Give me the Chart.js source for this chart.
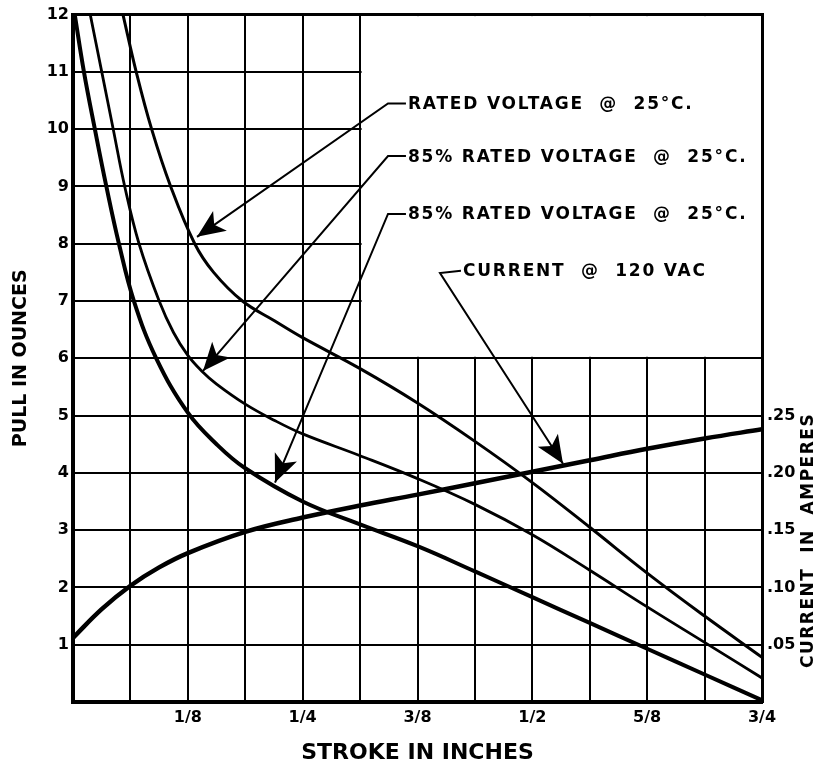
<!DOCTYPE html>
<html>
<head>
<meta charset="utf-8">
<script src="https://cdn.jsdelivr.net/npm/chart.js@4.4.0/dist/chart.umd.min.js"></script>
<style>
  body { margin: 0; background: #fff; }
  #wrap { width: 820px; height: 768px; }
</style>
</head>
<body>
<div id="wrap"><canvas id="pullChart"></canvas></div>
<script>
// stroke in inches, pull in ounces, current in amperes
const strokeTicks = [0, 0.0625, 0.125, 0.1875, 0.25, 0.3125, 0.375, 0.4375, 0.5, 0.5625, 0.625, 0.6875, 0.75];
const strokeLabels = ['', '', '1/8', '', '1/4', '', '3/8', '', '1/2', '', '5/8', '', '3/4'];
const pullTicks = [0, 1, 2, 3, 4, 5, 6, 7, 8, 9, 10, 11, 12];
const currentTicks = [0.05, 0.10, 0.15, 0.20, 0.25];
const currentLabels = ['.05', '.10', '.15', '.20', '.25'];

const ratedStroke = [0.0544, 0.0688, 0.0856, 0.1063, 0.1325, 0.1531, 0.1844, 0.2188, 0.25, 0.3125, 0.375, 0.4375, 0.5, 0.5625, 0.625, 0.6875, 0.75];
const ratedPull   = [12, 11, 10, 9, 8, 7.5, 7, 6.66, 6.36, 5.82, 5.22, 4.55, 3.83, 3.05, 2.25, 1.5, 0.78];

const v85aStroke = [0.0188, 0.0313, 0.0438, 0.0563, 0.0719, 0.0938, 0.1094, 0.125, 0.1406, 0.1563, 0.1875, 0.2188, 0.25, 0.3125, 0.375, 0.4375, 0.5, 0.5625, 0.625, 0.6875, 0.75];
const v85aPull   = [12, 11, 10, 9, 8, 7, 6.45, 6.05, 5.77, 5.55, 5.2, 4.92, 4.68, 4.3, 3.9, 3.45, 2.92, 2.3, 1.66, 1.04, 0.42];

const v85bStroke = [0.0019, 0.0119, 0.0238, 0.0363, 0.05, 0.0663, 0.0906, 0.125, 0.1563, 0.1875, 0.25, 0.3125, 0.375, 0.4375, 0.5, 0.5625, 0.625, 0.6875, 0.75];
const v85bPull   = [12, 11, 10, 9, 8, 7, 6, 5.05, 4.5, 4.08, 3.5, 3.1, 2.72, 2.28, 1.83, 1.38, 0.93, 0.48, 0.03];

const currentStroke = [0, 0.03125, 0.0625, 0.09375, 0.125, 0.1875, 0.25, 0.3125, 0.375, 0.4375, 0.5, 0.5625, 0.625, 0.6875, 0.75];
const currentAmps   = [0.056, 0.081, 0.1015, 0.1175, 0.130, 0.1485, 0.161, 0.1715, 0.181, 0.191, 0.201, 0.211, 0.221, 0.230, 0.238];

const noteTexts = ['RATED VOLTAGE  @  25°C.', '85% RATED VOLTAGE  @  25°C.', '85% RATED VOLTAGE  @  25°C.', 'CURRENT  @  120 VAC'];

const FONT = "'DejaVu Sans', 'Liberation Sans', sans-serif";

// where the callouts sit, in chart units: text start, elbow, arrow tip
const notes = [
  {text: [0.3646, 10.45], elbow: [0.3429, 10.45], tip: [0.135, 8.12]},
  {text: [0.3646, 9.53],  elbow: [0.3429, 9.53],  tip: [0.1415, 5.78]},
  {text: [0.3646, 8.52],  elbow: [0.3429, 8.52],  tip: [0.2199, 3.83]},
  {text: [0.4245, 7.53],  elbow: [0.3995, 7.49],  tip: [0.5334, 4.16]}
];

function pts(xs, ys) {
  return xs.map((v, i) => ({x: v, y: ys[i]}));
}

function arrowHead(ctx, fx, fy, tx, ty) {
  const a = Math.atan2(ty - fy, tx - fx);
  ctx.save();
  ctx.translate(tx, ty);
  ctx.rotate(a);
  ctx.beginPath();
  ctx.moveTo(0, 0);
  ctx.lineTo(-28, -12);
  ctx.lineTo(-21, 0);
  ctx.lineTo(-28, 12);
  ctx.closePath();
  ctx.fill();
  ctx.restore();
}

const paper = {
  id: 'paper',
  beforeDatasetsDraw(chart) {
    // upper right corner of the sheet has no grid
    const {ctx, scales: {x, y}} = chart;
    const l = x.getPixelForValue(0.3125) + 1.5;
    const r = x.getPixelForValue(0.75) - 1;
    const t = y.getPixelForValue(12) + 1.5;
    const b = y.getPixelForValue(6) - 1.5;
    ctx.save();
    ctx.fillStyle = '#fff';
    ctx.fillRect(l, t, r - l, b - t);
    ctx.restore();
  },
  afterDatasetsDraw(chart) {
    const {ctx, scales: {x, y}} = chart;
    ctx.save();
    ctx.strokeStyle = '#000';
    ctx.fillStyle = '#000';
    ctx.lineWidth = 2;
    notes.forEach((n, i) => {
      const tx = x.getPixelForValue(n.text[0]), ty = y.getPixelForValue(n.text[1]);
      const ex = x.getPixelForValue(n.elbow[0]), ey = y.getPixelForValue(n.elbow[1]);
      const px = x.getPixelForValue(n.tip[0]), py = y.getPixelForValue(n.tip[1]);
      ctx.beginPath();
      ctx.moveTo(tx - 2, ty);
      ctx.lineTo(ex, ey);
      ctx.lineTo(px, py);
      ctx.stroke();
      arrowHead(ctx, ex, ey, px, py);
      ctx.font = 'bold 17px ' + FONT;
      ctx.letterSpacing = '1.8px';
      ctx.textBaseline = 'middle';
      ctx.textAlign = 'left';
      ctx.fillText(noteTexts[i], tx, ty + 1);
    });
    ctx.restore();

    // right hand axis title
    const y1 = chart.scales.y1;
    ctx.save();
    ctx.translate(y1.right - 11, y1.getPixelForValue(0.141));
    ctx.rotate(-Math.PI / 2);
    ctx.font = 'bold 17px ' + FONT;
    ctx.letterSpacing = '1.5px';
    ctx.textAlign = 'center';
    ctx.textBaseline = 'middle';
    ctx.fillStyle = '#000';
    ctx.fillText('CURRENT  IN  AMPERES', 0, 0);
    ctx.restore();
  }
};

new Chart(document.getElementById('pullChart'), {
  type: 'line',
  data: {
    datasets: [
      {label: 'Rated voltage', data: pts(ratedStroke, ratedPull), borderWidth: 3},
      {label: '85% rated voltage', data: pts(v85aStroke, v85aPull), borderWidth: 2.8},
      {label: '85% rated voltage (2)', data: pts(v85bStroke, v85bPull), borderWidth: 4},
      {label: 'Current @ 120 VAC', data: pts(currentStroke, currentAmps), borderWidth: 4.5, yAxisID: 'y1'}
    ].map(d => Object.assign({
      borderColor: '#000',
      pointRadius: 0,
      tension: 0.4,
      fill: false
    }, d))
  },
  options: {
    responsive: true,
    maintainAspectRatio: false,
    animation: false,
    layout: {padding: {top: 13, left: 0, right: 0, bottom: 0}},
    plugins: {legend: {display: false}, tooltip: {enabled: false}},
    scales: {
      x: {
        type: 'linear',
        min: 0,
        max: 0.75,
        afterBuildTicks: s => { s.ticks = strokeTicks.map(v => ({value: v})); },
        afterFit: s => { s.height = 66; },
        ticks: {
          autoSkip: false,
          maxRotation: 0,
          padding: 6,
          color: '#000',
          font: {family: FONT, size: 16, weight: 'bold'},
          callback: (v, i) => strokeLabels[i]
        },
        grid: {color: '#000', drawTicks: false, lineWidth: c => (c.tick && c.tick.value === 0.75 ? 3 : 2)},
        border: {color: '#000', width: 4},
        title: {display: true, text: 'STROKE IN INCHES', color: '#000', padding: {top: 0, bottom: 2}, font: {family: FONT, size: 22, weight: 'bold'}}
      },
      y: {
        min: 0,
        max: 12,
        afterBuildTicks: s => { s.ticks = pullTicks.map(v => ({value: v})); },
        afterFit: s => { s.width = 73; },
        ticks: {
          padding: 4,
          color: '#000',
          font: {family: FONT, size: 16, weight: 'bold'},
          callback: v => (v === 0 ? '' : String(v))
        },
        grid: {color: '#000', drawTicks: false, lineWidth: c => (c.tick && c.tick.value === 12 ? 3 : 2)},
        border: {color: '#000', width: 4},
        title: {display: true, text: 'PULL IN OUNCES', color: '#000', padding: {top: 10, bottom: 0}, font: {family: FONT, size: 19, weight: 'bold'}}
      },
      y1: {
        position: 'right',
        min: 0,
        max: 0.6,
        afterBuildTicks: s => { s.ticks = currentTicks.map(v => ({value: v})); },
        afterFit: s => { s.width = 58; },
        ticks: {
          padding: 5,
          color: '#000',
          font: {family: FONT, size: 16, weight: 'bold'},
          callback: (v, i) => currentLabels[i]
        },
        grid: {display: false, drawTicks: false},
        border: {color: '#000', width: 3}
      }
    }
  },
  plugins: [paper]
});
</script>
</body>
</html>
